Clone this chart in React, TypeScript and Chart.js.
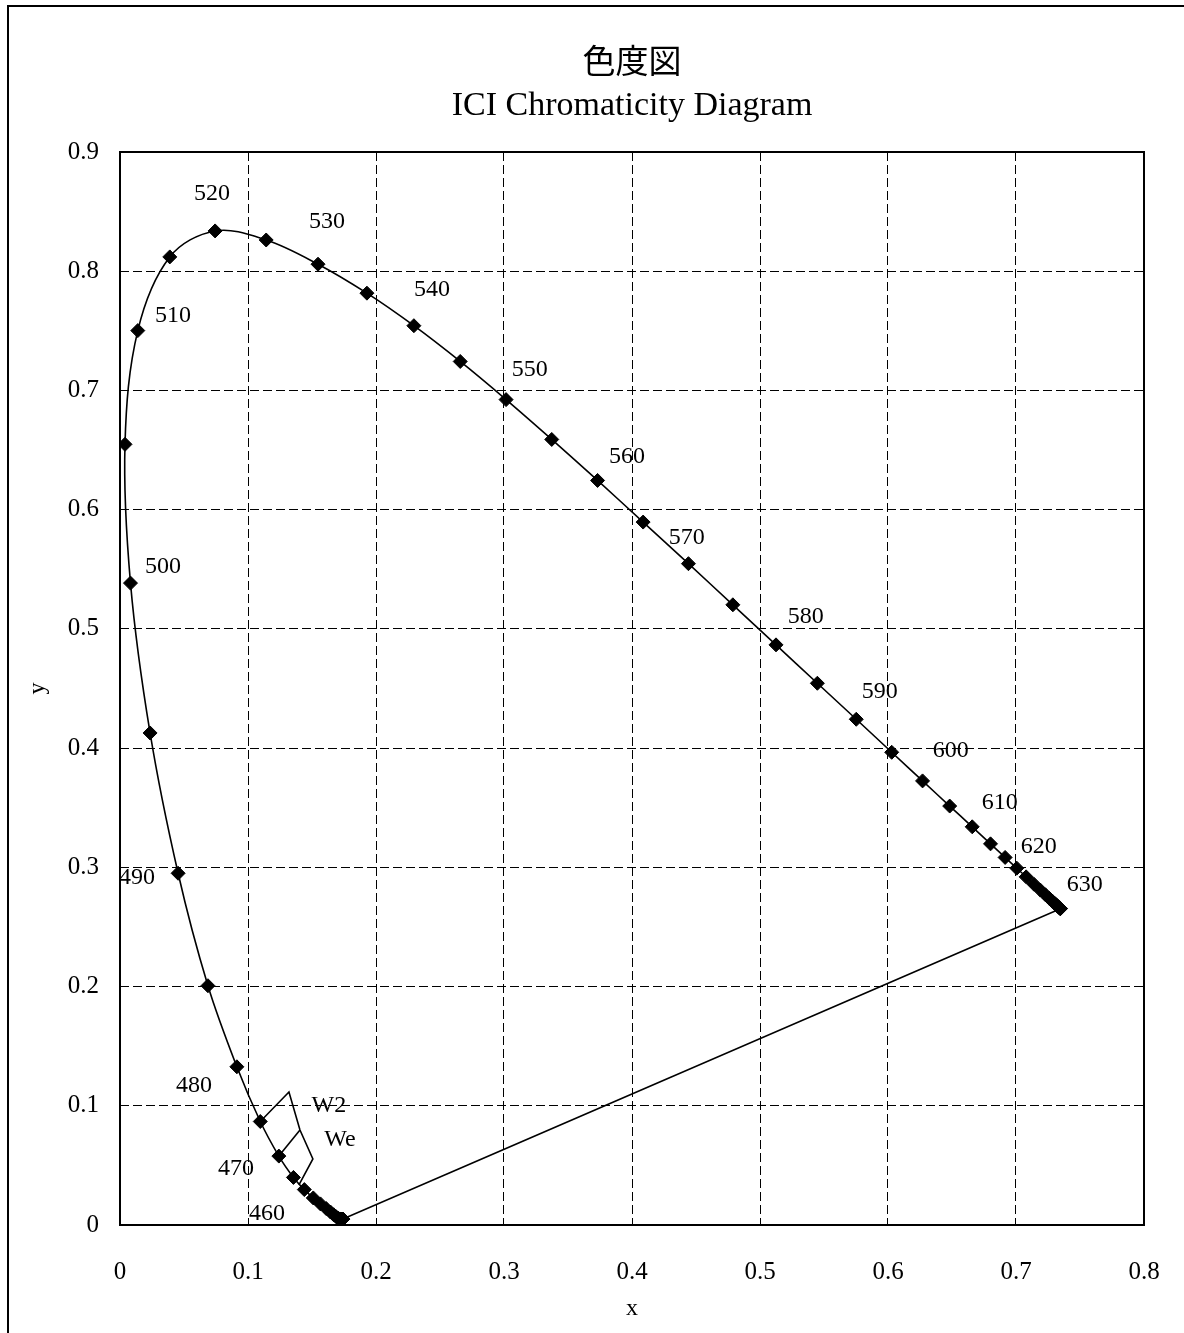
import { useEffect, useRef } from 'react';
import { Chart, registerables } from 'chart.js';

Chart.register(...registerables);

// CIE 1931 spectral locus, 5 nm steps from 380 nm to 700 nm
const wavelengths = [
  380, 385, 390, 395, 400, 405, 410, 415, 420, 425, 430, 435, 440, 445, 450, 455,
  460, 465, 470, 475, 480, 485, 490, 495, 500, 505, 510, 515, 520, 525, 530, 535,
  540, 545, 550, 555, 560, 565, 570, 575, 580, 585, 590, 595, 600, 605, 610, 615,
  620, 625, 630, 635, 640, 645, 650, 655, 660, 665, 670, 675, 680, 685, 690, 695, 700,
];
const locusX = [
  0.1741, 0.1740, 0.1738, 0.1736, 0.1733, 0.1730, 0.1726, 0.1721, 0.1714, 0.1703, 0.1689, 0.1669, 0.1644, 0.1611, 0.1566, 0.1510,
  0.1440, 0.1355, 0.1241, 0.1096, 0.0913, 0.0687, 0.0454, 0.0235, 0.0082, 0.0039, 0.0139, 0.0389, 0.0743, 0.1142, 0.1547, 0.1929,
  0.2296, 0.2658, 0.3016, 0.3373, 0.3731, 0.4087, 0.4441, 0.4788, 0.5125, 0.5448, 0.5752, 0.6029, 0.6270, 0.6482, 0.6658, 0.6801,
  0.6915, 0.7006, 0.7079, 0.7140, 0.7190, 0.7230, 0.7260, 0.7283, 0.7300, 0.7311, 0.7320, 0.7327, 0.7334, 0.7340, 0.7344, 0.7346, 0.7347,
];
const locusY = [
  0.0050, 0.0050, 0.0049, 0.0049, 0.0048, 0.0048, 0.0048, 0.0048, 0.0051, 0.0058, 0.0069, 0.0086, 0.0109, 0.0138, 0.0177, 0.0227,
  0.0297, 0.0399, 0.0578, 0.0868, 0.1327, 0.2007, 0.2950, 0.4127, 0.5384, 0.6548, 0.7502, 0.8120, 0.8338, 0.8262, 0.8059, 0.7816,
  0.7543, 0.7243, 0.6923, 0.6589, 0.6245, 0.5896, 0.5547, 0.5202, 0.4866, 0.4544, 0.4242, 0.3965, 0.3725, 0.3514, 0.3340, 0.3197,
  0.3083, 0.2993, 0.2920, 0.2859, 0.2809, 0.2770, 0.2740, 0.2717, 0.2700, 0.2689, 0.2680, 0.2673, 0.2666, 0.2660, 0.2656, 0.2654, 0.2653,
];

// Line of purples joining the two ends of the locus
const purpleX = [0.7347, 0.1741];
const purpleY = [0.2653, 0.0050];

// W2 / We outline near the blue end
const outlineX = [0.1096, 0.1320, 0.1406, 0.1507, 0.1398];
const outlineY = [0.0868, 0.1116, 0.0797, 0.0554, 0.0336];
const rungX = [0.1241, 0.1406];
const rungY = [0.0578, 0.0797];

// Wavelength and outline annotations (text, position in x/y units)
const noteTexts = [
  '460', '470', '480', '490', '500', '510', '520', '530', '540', '550', '560',
  '570', '580', '590', '600', '610', '620', '630', 'W2', 'We',
];
const noteX = [
  0.1148, 0.0906, 0.0578, 0.0133, 0.0336, 0.0414, 0.0719, 0.1617, 0.2437, 0.3202, 0.3960,
  0.4428, 0.5358, 0.5936, 0.6490, 0.6873, 0.7177, 0.7537, 0.1632, 0.1718,
];
const noteY = [
  0.0092, 0.0470, 0.1166, 0.2911, 0.5519, 0.7625, 0.8648, 0.8413, 0.7843, 0.7172, 0.6442,
  0.5762, 0.5100, 0.4471, 0.3976, 0.3540, 0.3171, 0.2852, 0.0998, 0.0713,
];

const titleLines = ['色度図', 'ICI Chromaticity Diagram'];
const xAxisLabel = 'x';
const yAxisLabel = 'y';
const xMax = 0.8;
const yMax = 0.9;
const tickStep = 0.1;

const SERIF = '"Liberation Serif", "Times New Roman", serif';

const toPoints = (xs: number[], ys: number[]) => xs.map((x, i) => ({ x, y: ys[i] }));

const decorations = {
  id: 'decorations',
  beforeDatasetsDraw(chart: any) {
    const { ctx, chartArea } = chart;
    ctx.save();
    ctx.strokeStyle = '#000';
    ctx.lineWidth = 2;
    ctx.setLineDash([]);
    ctx.strokeRect(chartArea.left, chartArea.top, chartArea.right - chartArea.left, chartArea.bottom - chartArea.top);
    ctx.restore();
  },
  afterDatasetsDraw(chart: any) {
    const { ctx, chartArea, scales } = chart;
    const xs = scales.x;
    const ys = scales.y;
    ctx.save();
    ctx.fillStyle = '#000';
    ctx.textAlign = 'center';
    ctx.textBaseline = 'middle';
    ctx.font = `24px ${SERIF}`;
    noteTexts.forEach((t, i) => {
      ctx.fillText(t, xs.getPixelForValue(noteX[i]), ys.getPixelForValue(noteY[i]));
    });
    const cx = (chartArea.left + chartArea.right) / 2;
    ctx.font = '33px "Noto Sans CJK JP", sans-serif';
    ctx.fillText(titleLines[0], cx, 60);
    ctx.textBaseline = 'alphabetic';
    ctx.font = `34px ${SERIF}`;
    ctx.fillText(titleLines[1], cx, 115);
    // outer frame
    ctx.strokeStyle = '#000';
    ctx.lineWidth = 2;
    ctx.strokeRect(8, 6, chart.width + 50, chart.height + 50);
    ctx.restore();
  },
};

const fmt = (v: number | string) => {
  const n = Number(v);
  return Math.abs(n) < 1e-9 ? '0' : n.toFixed(1);
};

export default function App() {
  const ref = useRef<HTMLCanvasElement | null>(null);

  useEffect(() => {
    if (!ref.current) return;
    const chart = new Chart(ref.current, {
      type: 'scatter',
      data: {
        datasets: [
          {
            label: 'locus',
            data: toPoints(locusX, locusY),
            showLine: true,
            borderColor: '#000',
            borderWidth: 1.6,
            tension: 0.35,
            pointStyle: 'rectRot',
            pointRadius: 7,
            pointBackgroundColor: '#000',
            pointBorderColor: '#000',
            pointBorderWidth: 1,
          },
          {
            label: 'purples',
            data: toPoints(purpleX, purpleY),
            showLine: true,
            borderColor: '#000',
            borderWidth: 1.6,
            pointRadius: 0,
          },
          {
            label: 'outline',
            data: toPoints(outlineX, outlineY),
            showLine: true,
            borderColor: '#000',
            borderWidth: 1.6,
            pointRadius: 0,
          },
          {
            label: 'rung',
            data: toPoints(rungX, rungY),
            showLine: true,
            borderColor: '#000',
            borderWidth: 1.6,
            pointRadius: 0,
          },
        ],
      },
      options: {
        responsive: false,
        animation: false,
        devicePixelRatio: 1,
        layout: { padding: { left: 0, right: 40, top: 152, bottom: 0 } },
        plugins: {
          legend: { display: false },
          tooltip: { enabled: false },
          title: { display: false },
        },
        scales: {
          x: {
            type: 'linear',
            min: 0,
            max: xMax,
            afterFit: (s: any) => {
              s.height = 108;
              s.paddingLeft = 0;
              s.paddingRight = 0;
            },
            ticks: {
              stepSize: tickStep,
              padding: 32,
              color: '#000',
              font: { family: SERIF, size: 25 },
              callback: fmt,
            },
            grid: { color: '#000', lineWidth: 1, drawTicks: false },
            border: { display: false, dash: [9, 4] },
            title: {
              display: true,
              text: xAxisLabel,
              color: '#000',
              font: { family: SERIF, size: 24 },
              padding: { top: 0, bottom: 10 },
            },
          },
          y: {
            type: 'linear',
            min: 0,
            max: yMax,
            afterFit: (s: any) => { s.width = 120; },
            ticks: {
              stepSize: tickStep,
              padding: 21,
              color: '#000',
              font: { family: SERIF, size: 25 },
              callback: fmt,
            },
            grid: { color: '#000', lineWidth: 1, drawTicks: false },
            border: { display: false, dash: [9, 4] },
            title: {
              display: true,
              text: yAxisLabel,
              color: '#000',
              font: { family: SERIF, size: 24 },
              padding: { top: 23, bottom: 0 },
            },
          },
        },
      },
      plugins: [decorations],
    });
    return () => chart.destroy();
  }, []);

  return (
    <div style={{ position: 'absolute', left: 0, top: 0, width: 1184, height: 1333, background: '#fff', overflow: 'hidden' }}>
      <canvas ref={ref} width={1184} height={1333} style={{ display: 'block' }} />
    </div>
  );
}
